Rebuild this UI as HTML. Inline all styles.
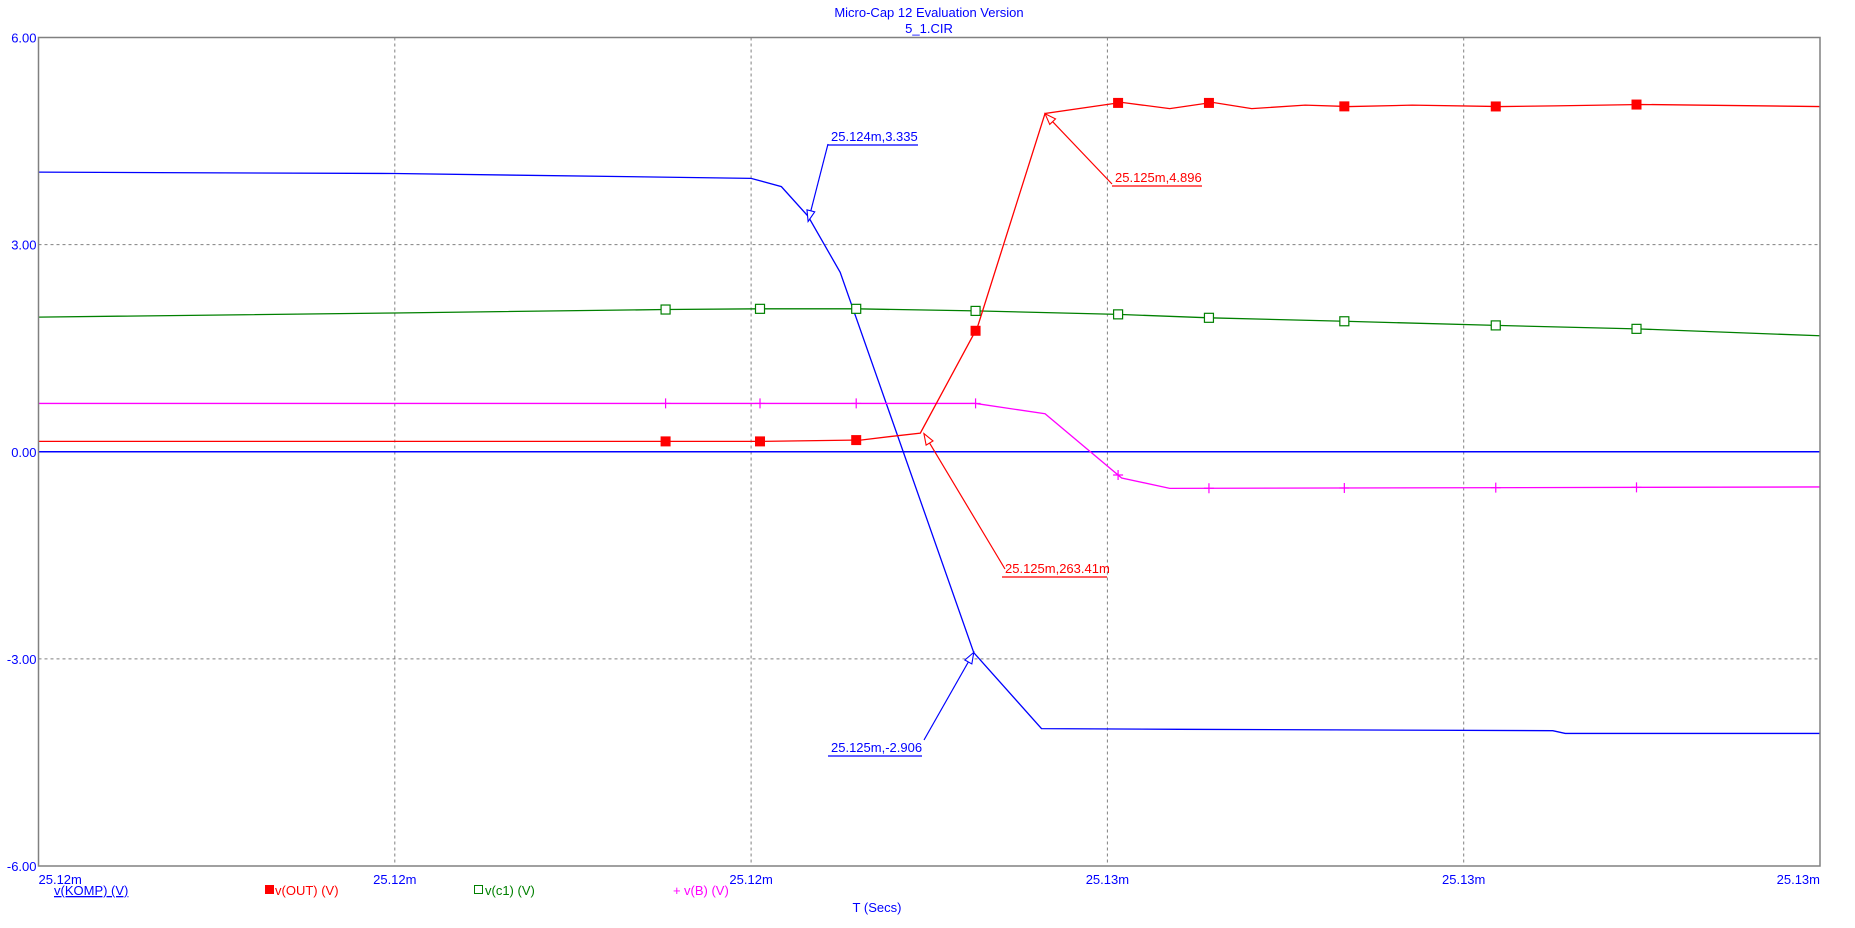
<!DOCTYPE html>
<html><head><meta charset="utf-8"><style>
html,body{margin:0;padding:0;background:#fff;}
svg{display:block;font-family:"Liberation Sans",sans-serif;}
</style></head><body>
<svg id="chart" width="1855" height="928" viewBox="0 0 1855 928" xmlns="http://www.w3.org/2000/svg">
<text x="929" y="17" font-size="13" fill="#0000ff" text-anchor="middle">Micro-Cap 12 Evaluation Version</text>
<text x="929" y="33" font-size="13" fill="#0000ff" text-anchor="middle">5_1.CIR</text>
<g id="grid"></g>
<g id="series"></g>
<g id="annots"></g>
<g id="axes"></g>
<g font-size="13">
  <text x="54" y="895" fill="#0000ff" text-decoration="underline">v(KOMP) (V)</text>
  <rect x="265" y="885" width="9" height="9" fill="#ff0000"/>
  <text x="275" y="895" fill="#ff0000">v(OUT) (V)</text>
  <rect x="474.5" y="885.5" width="8" height="8" fill="none" stroke="#008000"/>
  <text x="485" y="895" fill="#008000">v(c1) (V)</text>
  <text x="673" y="895" fill="#ff00ff">+</text>
  <text x="684" y="895" fill="#ff00ff">v(B) (V)</text>
</g>
<text x="877" y="912" font-size="13" fill="#0000ff" text-anchor="middle">T (Secs)</text>
</svg>
<script>
const xTicks=[25.120,25.122,25.124,25.126,25.128,25.130];
const xTickLabels=["25.12m","25.12m","25.12m","25.13m","25.13m","25.13m"];
const yTicks=[-6,-3,0,3,6];
const yTickLabels=["-6.00","-3.00","0.00","3.00","6.00"];
const kompT=[25.1200,25.1220,25.1240,25.12417,25.12432,25.1245,25.12525,25.12563,25.1264,25.1285,25.12857,25.1300];
const kompV=[4.05,4.03,3.96,3.84,3.41,2.6,-2.91,-4.01,-4.02,-4.04,-4.08,-4.08];
const outT=[25.1200,25.12352,25.12405,25.12462,25.12478,25.12495,25.12527,25.12565,25.12608,25.12635,25.12659,25.12681,25.12711,25.12736,25.12771,25.12821,25.12851,25.12900,25.1300];
const outV=[0.15,0.15,0.15,0.17,0.22,0.27,1.80,4.90,5.06,4.97,5.06,4.97,5.02,5.00,5.02,5.00,5.01,5.03,5.00];
const c1T=[25.1200,25.1220,25.12352,25.12405,25.12459,25.12526,25.12606,25.12657,25.12733,25.12818,25.12897,25.1300];
const c1V=[1.95,2.01,2.06,2.07,2.07,2.04,1.99,1.94,1.89,1.83,1.78,1.68];
const bT=[25.1200,25.12526,25.12565,25.12608,25.12635,25.1300];
const bV=[0.70,0.70,0.55,-0.38,-0.53,-0.51];
const markerT=[25.12352,25.12405,25.12459,25.12526,25.12606,25.12657,25.12733,25.12818,25.12897];

const L=38.5,R=1820,T=37.5,B=866;
const xMin=25.120,xMax=25.130,yMin=-6,yMax=6;
const sx=t=>L+(t-xMin)/(xMax-xMin)*(R-L);
const sy=v=>B-(v-yMin)/(yMax-yMin)*(B-T);
const NS="http://www.w3.org/2000/svg";
function mk(tag,parent,attrs){const e=document.createElementNS(NS,tag);for(const k in attrs)e.setAttribute(k,attrs[k]);parent.appendChild(e);return e;}
function interp(ts,vs,t){for(let i=0;i<ts.length-1;i++){if(t>=ts[i]&&t<=ts[i+1]){return vs[i]+(vs[i+1]-vs[i])*(t-ts[i])/(ts[i+1]-ts[i]);}}return vs[vs.length-1];}
const grid=document.getElementById('grid'),axes=document.getElementById('axes'),ser=document.getElementById('series'),ann=document.getElementById('annots');

xTicks.forEach((t,i)=>{
  if(i>0&&i<xTicks.length-1){const g=mk('line',grid,{x1:sx(t),x2:sx(t),y1:T,y2:B,stroke:'#808080','stroke-dasharray':'3,3'});
  
  }
  const anchor=i===0?'start':(i===xTicks.length-1?'end':'middle');
  const tx=mk('text',axes,{x:sx(t),y:B+18,'font-size':13,fill:'#0000ff','text-anchor':anchor});
  tx.textContent=xTickLabels[i];
  
  
});
yTicks.forEach((v,i)=>{
  if(v>yMin&&v<yMax){const g=mk('line',grid,{x1:L,x2:R,y1:sy(v),y2:sy(v),stroke:'#808080','stroke-dasharray':'3,3'});
  
  }
  const tx=mk('text',axes,{x:L-2,y:sy(v)+5,'font-size':13,fill:'#0000ff','text-anchor':'end'});
  tx.textContent=yTickLabels[i];
  
  
});
const frame=mk('rect',axes,{x:L,y:T,width:R-L,height:B-T,fill:'none',stroke:'#808080','stroke-width':1.5});



const zl=mk('line',ser,{x1:L,x2:R,y1:sy(0),y2:sy(0),stroke:'#0000ff','stroke-width':1.5});



function line(ts,vs,color,name){const p=mk('polyline',ser,{points:ts.map((t,i)=>sx(t)+','+sy(vs[i])).join(' '),fill:'none',stroke:color,'stroke-width':1.3});
  
  }
line(kompT,kompV,'#0000ff','komp-line');
line(c1T,c1V,'#008000','c1-line');
line(bT,bV,'#ff00ff','b-line');
line(outT,outV,'#ff0000','out-line');

markerT.forEach(t=>{
  const x=sx(t);
  let y=sy(interp(c1T,c1V,t));
  const m1=mk('rect',ser,{x:x-4.5,y:y-4.5,width:9,height:9,fill:'#fff',stroke:'#008000','stroke-width':1.2});
  
  
  y=sy(interp(bT,bV,t));
  const m2=mk('path',ser,{d:`M${x-5},${y}H${x+5}M${x},${y-5}V${y+5}`,stroke:'#ff00ff','stroke-width':1.2});
  
  
  y=sy(interp(outT,outV,t));
  const m3=mk('rect',ser,{x:x-5,y:y-5,width:10,height:10,fill:'#ff0000'});
  
  
});

const annT=[25.12432,25.12565,25.12497,25.12525];
const annV=[3.335,4.896,0.263,-2.906];
const annText=["25.124m,3.335","25.125m,4.896","25.125m,263.41m","25.125m,-2.906"];
const annColor=['#0000ff','#ff0000','#ff0000','#0000ff'];
const annLab=[[831,141,90,828,144],[1115,182,90,1112,184],[1005,573,105,1005,569],[831,752,94,924,740]];
annT.forEach((t,i)=>{
  const [lx,ly,w,fx,fy]=annLab[i];const c=annColor[i];
  const px=sx(t),py=sy(annV[i]);
  const tx=mk('text',ann,{x:lx,y:ly,'font-size':13,fill:c});
  tx.textContent=annText[i];
  
  
  const u=mk('line',ann,{x1:lx-3,x2:lx-3+w,y1:ly+4,y2:ly+4,stroke:c,'stroke-width':1.2});
  
  
  const ln=mk('line',ann,{x1:fx,y1:fy,x2:px,y2:py,stroke:c,'stroke-width':1.2});
  
  
  const ang=Math.atan2(py-fy,px-fx);const s=11,hw=4;
  const bx=px-s*Math.cos(ang),by=py-s*Math.sin(ang);
  const ar=mk('polygon',ann,{points:`${px},${py} ${bx-hw*Math.sin(ang)},${by+hw*Math.cos(ang)} ${bx+hw*Math.sin(ang)},${by-hw*Math.cos(ang)}`,fill:'#fff',stroke:c,'stroke-width':1.1});
  
  
});
</script>
</body></html>
